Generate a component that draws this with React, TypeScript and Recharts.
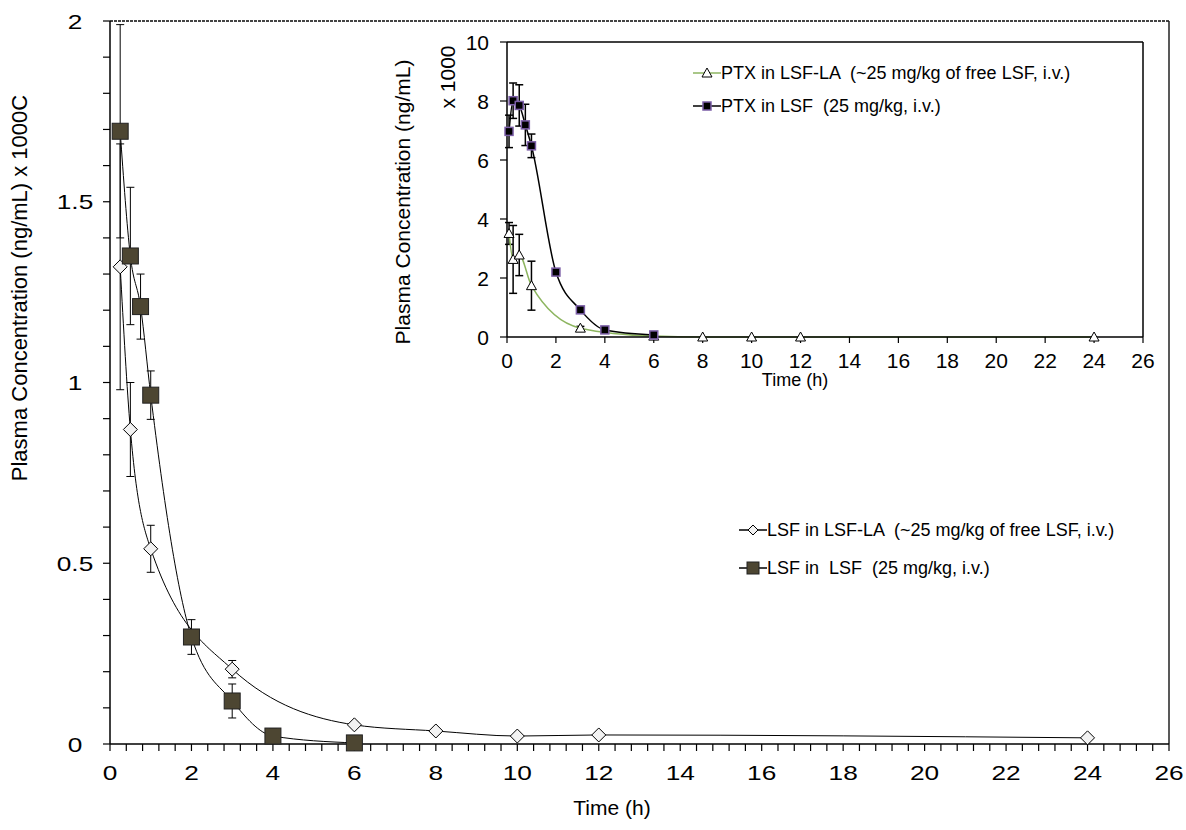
import React from "react";
import { LineChart, Line, XAxis, YAxis, ErrorBar, ReferenceLine } from "recharts";

const FONT = '"Liberation Sans", Arial, sans-serif';

// main panel: LSF (ng/mL x 10000)
const lsfLaTime = [0.25, 0.5, 1, 3, 6, 8, 10, 12, 24];
const lsfLaConc = [1.32, 0.87, 0.54, 0.207, 0.053, 0.036, 0.022, 0.025, 0.017];
const lsfLaSd = [0.34, 0.13, 0.065, 0.024, 0.006, 0.004, 0.003, 0.003, 0.002];

const lsfTime = [0.25, 0.5, 0.75, 1, 2, 3, 4, 6];
const lsfConc = [1.695, 1.35, 1.21, 0.965, 0.296, 0.119, 0.022, 0.003];
const lsfSd = [0.295, 0.19, 0.09, 0.067, 0.048, 0.047, 0.02, 0.003];

// inset: PTX (ng/mL x 1000)
const ptxLaTime = [0.083, 0.25, 0.5, 1, 3, 6, 8, 10, 12, 24];
const ptxLaConc = [3.51, 2.63, 2.78, 1.74, 0.3, 0.03, 0, 0, 0, 0];
const ptxLaSd = [0.37, 1.15, 0.7, 0.83, 0.06, 0.01, 0, 0, 0, 0];

const ptxTime = [0.083, 0.25, 0.5, 0.75, 1, 2, 3, 4, 6];
const ptxConc = [6.97, 8.01, 7.85, 7.19, 6.48, 2.2, 0.92, 0.24, 0.07];
const ptxSd = [0.55, 0.6, 0.7, 0.7, 0.4, 0.1, 0.05, 0.03, 0.02];

const timeTicks = [0, 2, 4, 6, 8, 10, 12, 14, 16, 18, 20, 22, 24, 26];
const mainYLabels = [0, 0.5, 1, 1.5, 2];
const insetYTicks = [0, 2, 4, 6, 8, 10];

// minor tick positions (axis furniture only)
const mainXMinor = Array.from({ length: 66 }, (_, i) => Math.round(i * 4) / 10);
const mainYMinor = Array.from({ length: 21 }, (_, i) => i / 10);

const rows = (t: number[], c: number[], s: number[]) =>
  t.map((x, i) => ({ t: x, c: c[i], sd: s[i] }));

const near = (a: number, b: number) => Math.abs(a - b) < 1e-6;

// tickSize 7, tickMargin 0 -> p.x is the outer end of the tick line
function MainYTick(p: any) {
  const v = p.payload.value;
  if (!mainYLabels.some((m) => near(m, v))) return <g />;
  return (
    <text
      transform={`translate(${p.x - 28},${p.y}) scale(1.25,1)`}
      textAnchor="middle"
      dy="0.36em"
      fontSize={21}
      fontFamily={FONT}
      fill="#000"
    >
      {v}
    </text>
  );
}

function MainXTick(p: any) {
  const v = p.payload.value;
  if (!timeTicks.some((m) => near(m, v))) return <g />;
  return (
    <text
      transform={`translate(${p.x},${p.y + 29}) scale(1.25,1)`}
      textAnchor="middle"
      fontSize={21}
      fontFamily={FONT}
      fill="#000"
    >
      {v}
    </text>
  );
}

function InsetYTick(p: any) {
  return (
    <text x={p.x - 11} y={p.y} dy="0.36em" textAnchor="end" fontSize={21} fontFamily={FONT} fill="#000">
      {p.payload.value}
    </text>
  );
}

function InsetXTick(p: any) {
  return (
    <text x={p.x} y={p.y + 25} textAnchor="middle" fontSize={21} fontFamily={FONT} fill="#000">
      {p.payload.value}
    </text>
  );
}

const squareDot = (name: string, size: number, fill: string, stroke: string, sw: number) => (p: any) => {
  if (p.cx == null || p.cy == null) return <g key={`${name}-${p.index}`} />;
  return (
    <rect
      key={`${name}-${p.index}`}
      x={p.cx - size / 2}
      y={p.cy - size / 2}
      width={size}
      height={size}
      fill={fill}
      stroke={stroke}
      strokeWidth={sw}
    />
  );
};

const diamondDot = (p: any) => {
  if (p.cx == null || p.cy == null) return <g key={`dia-${p.index}`} />;
  const r = 7;
  return (
    <polygon
      key={`dia-${p.index}`}
      points={`${p.cx},${p.cy - r} ${p.cx + r},${p.cy} ${p.cx},${p.cy + r} ${p.cx - r},${p.cy}`}
      fill="#f2f2f2"
      stroke="#000"
      strokeWidth={1}
    />
  );
};

const triangleDot = (p: any) => {
  if (p.cx == null || p.cy == null) return <g key={`tri-${p.index}`} />;
  return (
    <polygon
      key={`tri-${p.index}`}
      points={`${p.cx},${p.cy - 5} ${p.cx + 5},${p.cy + 4} ${p.cx - 5},${p.cy + 4}`}
      fill="#fff"
      stroke="#000"
      strokeWidth={1}
    />
  );
};

function LegendRow({ left, top, line, children, label }: any) {
  return (
    <div
      style={{
        position: "absolute",
        left,
        top: top - 10,
        height: 20,
        display: "flex",
        alignItems: "center",
        fontFamily: FONT,
        fontSize: 18,
        whiteSpace: "pre",
        color: "#000",
      }}
    >
      <svg width={28} height={20} style={{ display: "block" }}>
        <line x1={0} x2={28} y1={10} y2={10} stroke={line} strokeWidth={1.5} />
        {children}
      </svg>
      <span style={{ lineHeight: "20px" }}>{label}</span>
    </div>
  );
}

const tickStroke = { stroke: "#000", strokeWidth: 1.2 };

export default function App() {
  return (
    <div style={{ position: "absolute", left: 0, top: 0, width: 1186, height: 830, background: "#fff" }}>
      <LineChart width={1186} height={830} margin={{ top: 21, right: 17, bottom: 26, left: 0 }}>
        <XAxis
          type="number"
          dataKey="t"
          domain={[0, 26]}
          ticks={mainXMinor}
          interval={0}
          tickSize={7}
          tickMargin={0}
          tickLine={tickStroke}
          tick={MainXTick}
          height={60}
          axisLine={{ stroke: "#000", strokeWidth: 1.5 }}
          label={() => (
            <text x={612} y={815} textAnchor="middle" fontSize={21} fontFamily={FONT} fill="#000">
              Time (h)
            </text>
          )}
        />
        <YAxis
          type="number"
          domain={[0, 2]}
          ticks={mainYMinor}
          interval={0}
          tickSize={7}
          tickMargin={0}
          tickLine={tickStroke}
          tick={MainYTick}
          width={110}
          axisLine={{ stroke: "#000", strokeWidth: 1.5 }}
          label={() => (
            <text
              x={19}
              y={288}
              transform="rotate(-90 19 288)"
              textAnchor="middle"
              dominantBaseline="central"
              fontSize={22}
              fontFamily={FONT}
              fill="#000"
            >
              Plasma Concentration (ng/mL) x 1000C
            </text>
          )}
        />
        <ReferenceLine y={2} stroke="#444" strokeWidth={2} strokeDasharray="3 1" />
        <ReferenceLine x={26} stroke="#222" strokeWidth={1.5} />
        <Line
          data={rows(lsfLaTime, lsfLaConc, lsfLaSd)}
          dataKey="c"
          type="monotone"
          stroke="#000"
          strokeWidth={1}
          dot={diamondDot}
          isAnimationActive={false}
        >
          <ErrorBar dataKey="sd" direction="y" width={4} stroke="#000" strokeWidth={1} />
        </Line>
        <Line
          data={rows(lsfTime, lsfConc, lsfSd)}
          dataKey="c"
          type="monotone"
          stroke="#000"
          strokeWidth={1}
          dot={squareDot("lsf", 16, "#4d4632", "#222", 1)}
          isAnimationActive={false}
        >
          <ErrorBar dataKey="sd" direction="y" width={4} stroke="#000" strokeWidth={1} />
        </Line>
      </LineChart>

      <div style={{ position: "absolute", left: 380, top: 30 }}>
        <LineChart width={775} height={370} margin={{ top: 12, right: 12, bottom: 23, left: 0 }}>
          <XAxis
            type="number"
            dataKey="t"
            domain={[0, 26]}
            ticks={timeTicks}
            interval={0}
            tickSize={6}
            tickMargin={0}
            tickLine={tickStroke}
            tick={InsetXTick}
            height={40}
            axisLine={{ stroke: "#000", strokeWidth: 1.5 }}
            label={() => (
              <text x={415} y={356} textAnchor="middle" fontSize={18} fontFamily={FONT} fill="#000">
                Time (h)
              </text>
            )}
          />
          <YAxis
            type="number"
            domain={[0, 10]}
            ticks={insetYTicks}
            interval={0}
            tickSize={7}
            tickMargin={0}
            tickLine={tickStroke}
            tick={InsetYTick}
            width={127}
            axisLine={{ stroke: "#000", strokeWidth: 1.5 }}
            label={() => (
              <g>
                <text
                  x={22}
                  y={172}
                  transform="rotate(-90 22 172)"
                  textAnchor="middle"
                  dominantBaseline="central"
                  fontSize={21}
                  fontFamily={FONT}
                  fill="#000"
                >
                  Plasma Concentration (ng/mL)
                </text>
                <text
                  x={67}
                  y={47}
                  transform="rotate(-90 67 47)"
                  textAnchor="middle"
                  dominantBaseline="central"
                  fontSize={21}
                  fontFamily={FONT}
                  fill="#000"
                >
                  x 1000
                </text>
              </g>
            )}
          />
          <ReferenceLine y={10} stroke="#000" strokeWidth={1.5} />
          <ReferenceLine x={26} stroke="#000" strokeWidth={1.5} />
          <Line
            data={rows(ptxLaTime, ptxLaConc, ptxLaSd)}
            dataKey="c"
            type="monotone"
            stroke="#8db560"
            strokeWidth={1.5}
            dot={triangleDot}
            isAnimationActive={false}
          >
            <ErrorBar dataKey="sd" direction="y" width={4} stroke="#000" strokeWidth={1.5} />
          </Line>
          <Line
            data={rows(ptxTime, ptxConc, ptxSd)}
            dataKey="c"
            type="monotone"
            stroke="#000"
            strokeWidth={1.5}
            dot={squareDot("ptx", 8, "#000", "#7b5ea7", 1.5)}
            isAnimationActive={false}
          >
            <ErrorBar dataKey="sd" direction="y" width={4} stroke="#000" strokeWidth={1.5} />
          </Line>
        </LineChart>
      </div>

      <LegendRow left={693} top={73} line="#8db560" label="PTX in LSF-LA  (~25 mg/kg of free LSF, i.v.)">
        <polygon points="14,5 19,14 9,14" fill="#fff" stroke="#000" />
      </LegendRow>
      <LegendRow left={693} top={106} line="#000" label="PTX in LSF  (25 mg/kg, i.v.)">
        <rect x={10} y={6} width={8} height={8} fill="#000" stroke="#7b5ea7" strokeWidth={1.5} />
      </LegendRow>
      <LegendRow left={739} top={530} line="#000" label="LSF in LSF-LA  (~25 mg/kg of free LSF, i.v.)">
        <polygon points="14,5 19,10 14,15 9,10" fill="#f2f2f2" stroke="#000" />
      </LegendRow>
      <LegendRow left={739} top={568} line="#000" label="LSF in  LSF  (25 mg/kg, i.v.)">
        <rect x={8} y={4} width={12} height={12} fill="#4d4632" stroke="#222" />
      </LegendRow>
    </div>
  );
}
